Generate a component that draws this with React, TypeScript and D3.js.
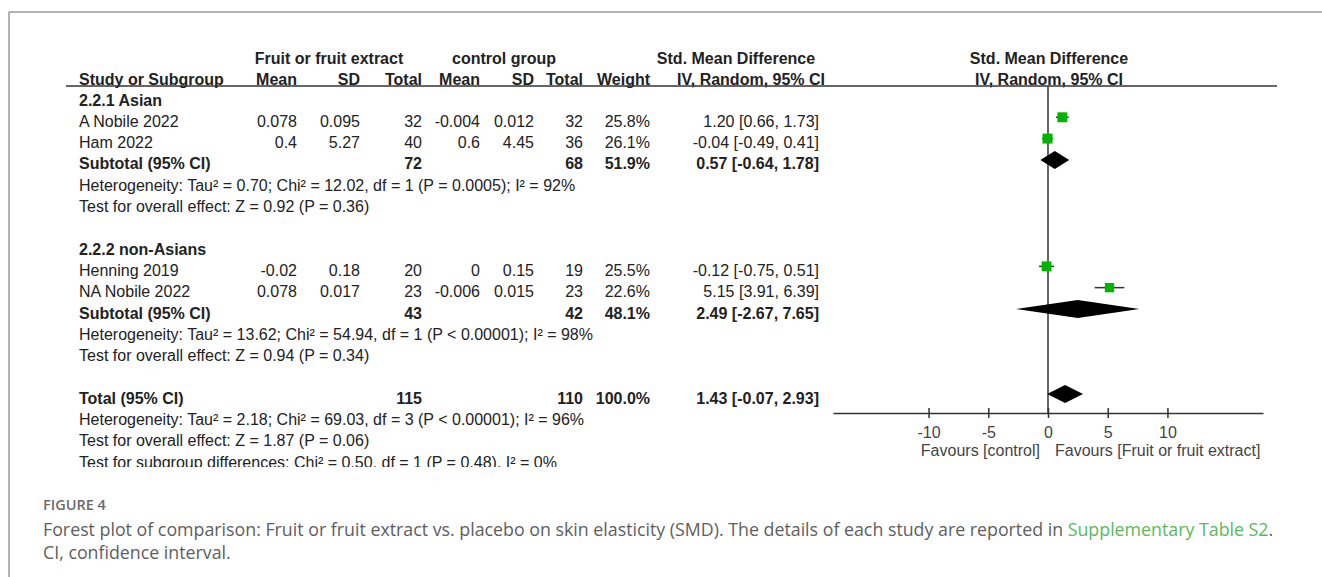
import * as d3 from "d3";
import React, { useEffect, useRef } from "react";

// study level data
const subgroupLabels = ["2.2.1 Asian", "2.2.2 non-Asians"];
const studyNames = ["A Nobile 2022", "Ham 2022", "Henning 2019", "NA Nobile 2022"];
const studySubgroup = [0, 0, 1, 1];
const fruitMean = ["0.078", "0.4", "-0.02", "0.078"];
const fruitSD = ["0.095", "5.27", "0.18", "0.017"];
const fruitTotal = [32, 40, 20, 23];
const controlMean = ["-0.004", "0.6", "0", "-0.006"];
const controlSD = ["0.012", "4.45", "0.15", "0.015"];
const controlTotal = [32, 36, 19, 23];
const studyWeight = [25.8, 26.1, 25.5, 22.6];
const studySMD = [1.2, -0.04, -0.12, 5.15];
const studyLow = [0.66, -0.49, -0.75, 3.91];
const studyHigh = [1.73, 0.41, 0.51, 6.39];

// subgroup pooled results
const subFruitTotal = [72, 43];
const subControlTotal = [68, 42];
const subWeight = [51.9, 48.1];
const subSMD = [0.57, 2.49];
const subLow = [-0.64, -2.67];
const subHigh = [1.78, 7.65];
const subHeterogeneity = [
  "Heterogeneity: Tau² = 0.70; Chi² = 12.02, df = 1 (P = 0.0005); I² = 92%",
  "Heterogeneity: Tau² = 13.62; Chi² = 54.94, df = 1 (P < 0.00001); I² = 98%",
];
const subOverall = [
  "Test for overall effect: Z = 0.92 (P = 0.36)",
  "Test for overall effect: Z = 0.94 (P = 0.34)",
];

// overall pooled result
const totalFruit = 115;
const totalControl = 110;
const totalWeight = 100.0;
const totalSMD = 1.43;
const totalLow = -0.07;
const totalHigh = 2.93;
const totalNotes = [
  "Heterogeneity: Tau² = 2.18; Chi² = 69.03, df = 3 (P < 0.00001); I² = 96%",
  "Test for overall effect: Z = 1.87 (P = 0.06)",
  "Test for subgroup differences: Chi² = 0.50, df = 1 (P = 0.48), I² = 0%",
];

const axisTicks = [-10, -5, 0, 5, 10];

const TABLE_FONT = "'Liberation Sans', Arial, sans-serif";
const CAPTION_FONT = "'Open Sans', Lato, sans-serif";

// plain hyphen for negatives, like RevMan prints them
const locale = d3.formatLocale({
  decimal: ".",
  thousands: ",",
  grouping: [3],
  currency: ["", ""],
  minus: "-",
});

const ForestPlot = () => {
  const svgRef = useRef(null);

  useEffect(() => {
    document.body.style.margin = "0";
    const svg = d3.select(svgRef.current);
    svg.selectAll("*").remove();

    const f2 = locale.format(".2f");
    const f1 = locale.format(".1f");
    const ci = (m, l, h) => `${f2(m)} [${f2(l)}, ${f2(h)}]`;

    // build the row list
    const rows = [];
    subgroupLabels.forEach((label, g) => {
      rows.push({ type: "heading", label });
      studyNames.forEach((name, i) => {
        if (studySubgroup[i] === g) rows.push({ type: "study", i });
      });
      rows.push({ type: "subtotal", g });
      rows.push({ type: "note", text: subHeterogeneity[g] });
      rows.push({ type: "note", text: subOverall[g] });
      rows.push({ type: "blank" });
    });
    rows.push({ type: "total" });
    totalNotes.forEach((t) => rows.push({ type: "note", text: t }));

    const yRow = d3.scaleLinear().domain([0, rows.length - 1]).range([100, 462]);
    const x = d3.scaleLinear().domain([-18, 18]).range([833, 1263]);
    const boxSize = d3.scaleSqrt().domain([0, 26.1]).range([0, 10]);

    // outer frame
    svg.append("line").attr("x1", 9).attr("x2", 1322).attr("y1", 12).attr("y2", 12)
      .attr("stroke", "#9a9a9a").attr("stroke-width", 1.5);
    svg.append("line").attr("x1", 9).attr("x2", 9).attr("y1", 12).attr("y2", 577)
      .attr("stroke", "#9a9a9a").attr("stroke-width", 1.5);

    svg.append("clipPath").attr("id", "plotClip")
      .append("rect").attr("x", 10).attr("y", 13).attr("width", 1310).attr("height", 454);

    const g = svg.append("g").attr("clip-path", "url(#plotClip)")
      .style("font-family", TABLE_FONT).style("font-size", "16px").attr("fill", "#222");

    const txt = (xp, yp, s, anchor = "start", bold = false) =>
      g.append("text").attr("x", xp).attr("y", yp).attr("dy", "0.35em")
        .attr("text-anchor", anchor).attr("font-weight", bold ? "bold" : "normal").text(s);

    // header
    txt(329, 58, "Fruit or fruit extract", "middle", true);
    txt(504, 58, "control group", "middle", true);
    txt(736, 58, "Std. Mean Difference", "middle", true);
    txt(1049, 58, "Std. Mean Difference", "middle", true);
    txt(79, 79, "Study or Subgroup", "start", true);
    txt(297, 79, "Mean", "end", true);
    txt(360, 79, "SD", "end", true);
    txt(422, 79, "Total", "end", true);
    txt(480, 79, "Mean", "end", true);
    txt(534, 79, "SD", "end", true);
    txt(583, 79, "Total", "end", true);
    txt(650, 79, "Weight", "end", true);
    txt(825, 79, "IV, Random, 95% CI", "end", true);
    txt(1049, 79, "IV, Random, 95% CI", "middle", true);
    g.append("line").attr("x1", 66).attr("x2", 1277).attr("y1", 86).attr("y2", 86)
      .attr("stroke", "#333").attr("stroke-width", 1.5);

    // zero line and axis
    const axisY = 413;
    g.append("line").attr("x1", x(0)).attr("x2", x(0)).attr("y1", 86).attr("y2", axisY)
      .attr("stroke", "#333").attr("stroke-width", 1.5);
    const axis = g.append("g").attr("transform", `translate(0,${axisY})`)
      .call(d3.axisBottom(x).tickValues(axisTicks).tickFormat(locale.format("d"))
        .tickSize(5).tickSizeOuter(0).tickPadding(9));
    axis.select(".domain").attr("stroke", "#333").attr("stroke-width", 1.5);
    axis.selectAll(".tick line").attr("stroke", "#333").attr("stroke-width", 1.5).attr("y1", -5);
    axis.selectAll(".tick text").attr("fill", "#444").style("font-size", "16px")
      .style("font-family", TABLE_FONT);
    g.append("text").attr("x", 1040).attr("y", 450).attr("dy", "0.35em").attr("text-anchor", "end")
      .attr("fill", "#444").text("Favours [control]");
    g.append("text").attr("x", 1055).attr("y", 450).attr("dy", "0.35em").attr("text-anchor", "start")
      .attr("fill", "#444").text("Favours [Fruit or fruit extract]");

    const diamond = (yc, m, l, h) => {
      const path = d3.path();
      path.moveTo(x(l), yc);
      path.lineTo(x(m), yc - 9);
      path.lineTo(x(h), yc);
      path.lineTo(x(m), yc + 9);
      path.closePath();
      g.append("path").attr("d", path.toString()).attr("fill", "#000");
    };

    rows.forEach((r, idx) => {
      const y = yRow(idx);
      const my = y - 4;
      if (r.type === "heading") {
        txt(79, y, r.label, "start", true);
      } else if (r.type === "study") {
        const i = r.i;
        txt(79, y, studyNames[i]);
        txt(297, y, fruitMean[i], "end");
        txt(360, y, fruitSD[i], "end");
        txt(422, y, fruitTotal[i], "end");
        txt(480, y, controlMean[i], "end");
        txt(534, y, controlSD[i], "end");
        txt(583, y, controlTotal[i], "end");
        txt(650, y, `${f1(studyWeight[i])}%`, "end");
        txt(819, y, ci(studySMD[i], studyLow[i], studyHigh[i]), "end");
        g.append("line").attr("x1", x(studyLow[i])).attr("x2", x(studyHigh[i]))
          .attr("y1", my).attr("y2", my).attr("stroke", "#333").attr("stroke-width", 1.5);
        const s = boxSize(studyWeight[i]);
        g.append("rect").attr("x", x(studySMD[i]) - s / 2).attr("y", my - s / 2)
          .attr("width", s).attr("height", s).attr("fill", "#00b400");
      } else if (r.type === "subtotal") {
        const k = r.g;
        txt(79, y, "Subtotal (95% CI)", "start", true);
        txt(422, y, subFruitTotal[k], "end", true);
        txt(583, y, subControlTotal[k], "end", true);
        txt(650, y, `${f1(subWeight[k])}%`, "end", true);
        txt(819, y, ci(subSMD[k], subLow[k], subHigh[k]), "end", true);
        diamond(my, subSMD[k], subLow[k], subHigh[k]);
      } else if (r.type === "total") {
        txt(79, y, "Total (95% CI)", "start", true);
        txt(422, y, totalFruit, "end", true);
        txt(583, y, totalControl, "end", true);
        txt(650, y, `${f1(totalWeight)}%`, "end", true);
        txt(819, y, ci(totalSMD, totalLow, totalHigh), "end", true);
        diamond(my, totalSMD, totalLow, totalHigh);
      } else if (r.type === "note") {
        txt(79, y, r.text);
      }
    });

    // caption
    const cap = svg.append("g").style("font-family", CAPTION_FONT);
    cap.append("text").attr("x", 43).attr("y", 505).attr("dy", "0.35em")
      .attr("fill", "#6b6b6b").style("font-size", "14.5px").attr("font-weight", 600).text("FIGURE 4");
    const line1 = cap.append("text").attr("x", 43).attr("y", 530).attr("dy", "0.35em")
      .attr("fill", "#5e5e5e").style("font-size", "17.8px");
    line1.append("tspan").text(
      "Forest plot of comparison: Fruit or fruit extract vs. placebo on skin elasticity (SMD). The details of each study are reported in "
    );
    line1.append("tspan").attr("fill", "#5cb85c").text("Supplementary Table S2");
    line1.append("tspan").text(".");
    cap.append("text").attr("x", 43).attr("y", 553).attr("dy", "0.35em")
      .attr("fill", "#5e5e5e").style("font-size", "17.8px").text("CI, confidence interval.");
  }, []);

  return <svg ref={svgRef} width="1322" height="577" style={{ display: "block", background: "#fff" }}></svg>;
};

export default function App() {
  return <ForestPlot />;
}
